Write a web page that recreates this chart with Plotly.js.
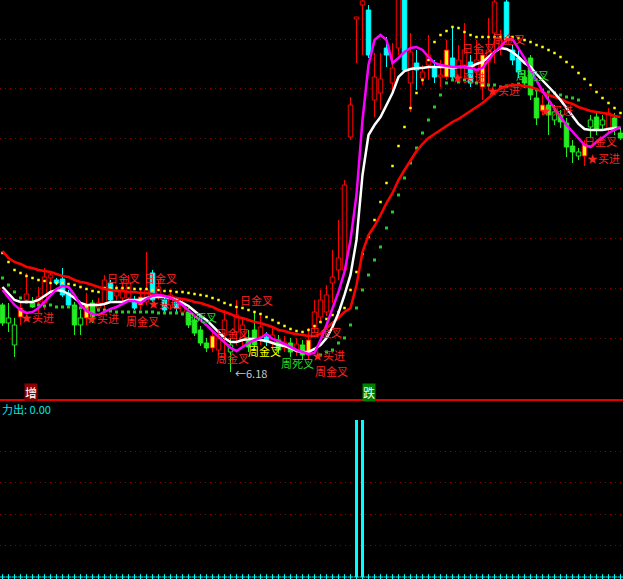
<!DOCTYPE html>
<html><head><meta charset="utf-8">
<script src="https://cdn.plot.ly/plotly-3.0.1.min.js"></script>
<style>html,body{margin:0;padding:0;background:#000;}#chart{width:623px;height:579px;}</style>
</head><body><div id="chart"></div>
<script>
// ---- candle data (price units) ----
const openP = [7.52,7.16,6.72,7.28,7.62,7.56,7.58,7.56,8.06,8.02,
 8.04,7.76,7.52,7.12,7.26,7.56,7.46,7.56,7.96,7.70,
 7.66,7.66,7.62,7.52,7.58,8.16,7.68,7.62,7.52,7.58,
 7.38,7.38,7.22,7.02,6.76,6.66,6.62,6.92,6.58,6.98,
 6.82,6.86,7.02,6.88,6.88,6.78,6.82,6.66,6.76,6.62,
 6.72,6.52,7.08,7.28,7.38,7.96,8.22,8.22,10.88,13.24,
 13.52,13.42,11.62,11.76,12.66,11.96,12.66,13.72,11.96,12.36,
 12.06,12.32,12.26,12.08,12.08,12.46,12.08,12.32,12.38,12.18,
 11.88,12.38,12.96,12.66,13.58,12.62,12.46,12.08,12.46,11.66,
 11.40,11.52,11.22,11.32,11.16,10.70,10.50,10.50,11.08,11.28,
 11.12,11.06,11.26,10.96];
const closeP = [7.16,7.26,7.12,7.46,7.74,7.48,7.68,8.08,8.12,7.96,
 7.72,7.52,7.12,7.26,7.52,7.28,7.56,8.02,7.62,7.82,
 7.82,7.96,7.46,7.68,7.82,7.62,7.88,7.42,7.72,7.46,
 7.56,7.12,6.96,6.76,6.66,6.90,6.86,7.22,6.72,7.32,
 7.12,6.68,6.72,7.08,6.78,6.92,6.62,6.78,6.58,6.74,
 6.52,6.82,7.38,7.62,7.72,8.08,8.46,9.92,11.52,13.28,
 13.60,12.52,12.08,12.04,12.52,12.26,13.72,12.22,12.58,12.22,
 12.18,12.52,12.08,12.12,12.62,12.08,12.42,12.62,11.96,12.42,
 12.52,12.62,13.58,12.82,12.82,12.42,12.18,11.96,11.72,11.26,
 11.52,11.32,11.38,11.18,10.68,10.58,10.58,10.74,11.22,11.02,
 11.22,11.36,11.02,10.86];
const highP = [7.56,7.56,7.26,7.56,8.16,7.68,7.88,8.26,8.18,8.06,
 8.26,7.82,7.58,7.42,7.76,7.62,7.66,8.12,8.02,7.92,
 7.98,8.12,7.70,7.82,8.58,8.22,8.02,7.68,7.82,7.66,
 7.66,7.46,7.32,7.10,6.86,7.02,7.02,7.42,6.86,7.62,
 7.26,7.02,7.38,7.32,6.98,7.06,6.92,6.90,6.86,6.86,
 6.82,7.06,7.62,7.82,7.92,8.62,9.22,10.02,11.68,13.28,
 14.02,13.52,12.56,12.56,12.88,12.76,13.82,13.82,12.96,12.62,
 12.32,12.92,12.42,12.42,12.82,13.08,12.72,13.16,12.52,12.82,
 12.62,13.26,13.72,13.02,13.72,12.72,12.62,12.22,12.52,11.82,
 11.72,11.76,11.52,11.42,11.26,10.82,10.66,10.82,11.32,11.38,
 11.32,11.46,11.36,11.06];
const lowP = [7.10,6.98,6.48,7.12,7.56,7.46,7.36,7.42,7.78,7.92,
 7.68,7.48,6.92,6.92,7.12,7.16,7.38,7.42,7.58,7.62,
 7.52,7.58,7.42,7.42,7.52,7.58,7.62,7.36,7.42,7.38,
 7.30,7.06,6.90,6.70,6.58,6.58,6.50,6.42,6.18,6.72,
 6.66,6.58,6.62,6.72,6.70,6.66,6.54,6.58,6.48,6.50,
 6.42,6.42,6.98,7.18,7.30,7.56,8.02,8.12,10.82,12.36,
 12.52,12.46,11.28,11.42,12.28,11.76,12.52,12.18,11.38,11.82,
 11.92,12.02,11.96,11.88,12.02,12.02,11.98,12.02,11.88,12.06,
 11.62,11.82,12.36,12.52,12.78,12.32,12.06,11.86,11.62,11.12,
 11.32,10.92,11.12,11.06,10.48,10.36,10.42,10.30,10.86,10.92,
 11.02,10.98,10.92,10.82];
// r = red hollow, g = green filled, gh = green hollow, c = cyan filled, y = yellow signal
const candleKind = ['g','gh','gh','y','r','g','r','r','r','c',
 'c','c','g','gh','y','g','r','r','c','r',
 'r','r','c','y','r','c','r','c','r','c',
 'r','g','g','g','g','y','r','r','gh','r',
 'r','g','g','r','c','r','g','r','g','r',
 'g','y','r','r','r','r','r','r','r','r',
 'r','c','r','r','c','r','r','c','r','c',
 'r','r','c','r','y','c','r','r','c','r',
 'y','r','r','r','c','c','c','g','g','g',
 'y','g','gh','g','g','g','gh','y','gh','g',
 'gh','r','g','g'];
// ---- indicator lines ----
const maLong = [8.60,8.46,8.38,8.34,8.28,8.26,8.22,8.20,8.18,8.14,
 8.10,8.08,8.02,7.98,7.96,7.92,7.88,7.84,7.82,7.80,
 7.80,7.78,7.78,7.76,7.76,7.74,7.72,7.70,7.68,7.66,
 7.64,7.62,7.58,7.56,7.52,7.48,7.42,7.38,7.34,7.28,
 7.26,7.22,7.18,7.16,7.12,7.08,7.02,7.00,6.96,6.94,
 6.92,6.90,6.90,6.94,7.06,7.16,7.26,7.38,7.46,7.92,
 8.58,8.92,9.10,9.32,9.56,9.76,10.02,10.22,10.42,10.60,
 10.74,10.86,10.94,11.02,11.10,11.18,11.24,11.32,11.40,11.48,
 11.56,11.66,11.76,11.86,11.90,11.92,11.92,11.90,11.88,11.84,
 11.78,11.72,11.68,11.64,11.58,11.54,11.48,11.44,11.40,11.38,
 11.36,11.34,11.30,11.28];
const maShort = [7.88,7.74,7.62,7.58,7.58,7.58,7.62,7.70,7.78,7.82,
 7.80,7.74,7.66,7.56,7.52,7.52,7.52,7.54,7.58,7.58,
 7.58,7.62,7.62,7.62,7.66,7.68,7.68,7.68,7.66,7.62,
 7.56,7.50,7.40,7.30,7.22,7.10,6.98,6.86,6.78,6.78,
 6.82,6.84,6.84,6.82,6.80,6.76,6.72,6.70,6.66,6.60,
 6.58,6.58,6.64,6.72,6.86,7.08,7.36,7.72,8.12,8.82,
 10.12,10.92,11.12,11.28,11.52,11.76,12.08,12.20,12.24,12.26,
 12.26,12.28,12.28,12.28,12.28,12.26,12.28,12.28,12.28,12.34,
 12.38,12.48,12.58,12.66,12.64,12.58,12.48,12.36,12.28,12.14,
 12.02,11.90,11.76,11.62,11.46,11.30,11.14,11.04,11.02,11.02,
 11.02,11.04,11.06,11.06];
const maMid = [7.82,7.68,7.52,7.42,7.36,7.38,7.46,7.58,7.72,7.84,
 7.90,7.88,7.72,7.52,7.40,7.34,7.32,7.38,7.44,7.48,
 7.54,7.60,7.60,7.56,7.64,7.70,7.72,7.70,7.66,7.60,
 7.52,7.40,7.30,7.22,7.12,7.00,6.88,6.76,6.66,6.60,
 6.68,6.76,6.82,6.86,6.94,6.84,6.80,6.74,6.68,6.62,
 6.58,6.54,6.56,6.82,7.12,7.46,7.78,8.18,8.82,9.72,
 11.22,12.32,12.82,12.92,12.82,12.36,12.46,12.58,12.66,12.68,
 12.62,12.48,12.36,12.32,12.30,12.28,12.28,12.28,12.26,12.22,
 12.26,12.42,12.58,12.68,12.82,12.84,12.66,12.46,12.22,12.00,
 11.80,11.62,11.44,11.28,11.12,10.98,10.86,10.72,10.68,10.78,
 10.86,10.96,11.02,11.08];
const dotsYellow = [8.56,8.38,8.22,8.16,8.10,8.06,8.02,8.00,7.96,7.96,
 7.96,7.94,7.92,7.88,7.84,7.80,7.78,7.86,7.86,7.86,
 7.86,7.86,7.84,7.84,7.84,7.82,7.82,7.80,7.80,7.78,
 7.78,7.76,7.74,7.72,7.70,7.66,7.62,7.56,7.52,7.48,
 7.46,7.42,7.38,7.34,7.28,7.22,7.16,7.10,7.04,7.00,
 6.98,7.02,7.10,7.18,7.24,7.32,7.38,7.46,7.82,8.18,
 8.54,8.88,9.22,9.58,9.96,10.30,10.70,11.08,11.46,11.76,
 12.02,12.42,12.78,12.92,13.00,13.08,13.06,12.98,12.92,12.88,
 12.88,12.88,12.88,12.88,12.88,12.88,12.86,12.82,12.78,12.72,
 12.68,12.62,12.56,12.48,12.38,12.28,12.16,12.04,11.92,11.78,
 11.66,11.56,11.46,11.36];
const dotsGreen = [8.06,7.92,7.78,7.66,7.58,7.54,7.52,7.50,7.52,7.48,
 7.48,7.48,7.46,7.46,7.44,7.44,7.42,7.42,7.40,7.38,
 7.38,7.38,7.38,7.38,7.38,7.38,7.36,7.36,7.36,7.36,
 7.34,null,null,null,null,null,null,null,null,null,
 null,null,null,null,null,null,null,null,null,null,
 null,null,null,6.52,6.58,6.62,6.76,6.86,7.12,7.46,
 7.82,8.12,8.42,8.68,9.06,9.38,9.72,10.06,10.36,10.66,
 10.96,11.22,11.48,11.72,11.96,12.02,11.98,12.02,11.98,11.96,
 11.96,11.92,11.92,11.88,11.90,11.92,11.94,11.90,11.86,11.82,
 11.82,11.78,11.76,11.72,11.68,11.66,11.62,null,null,null,
 null,null,null,null];
// ---- lower panel (力出) ----
const powerIdx = [59, 60];
const powerVal = [5.0, 5.0];
// ---- signal labels ----
const labelText  = ['日金叉','日金叉','★买进','★买进','周金叉','★买进','日金叉','日死叉','日金叉','周金叉','周金叉','周死叉','←6.18','日金叉','★买进','周金叉','日金叉','周金叉','★买进','★买进','周死叉','★买进','日金叉','★买进'];
const labelIdx   = [20.1,26.25,5.75,16.6,23.25,27.0,42.4,33.0,38.3,38.3,43.67,49.17,41.4,53.9,54.25,54.75,79.25,84.3,77.6,83.5,88.4,92.4,99.6,100.1];
const labelPrice = [8.06,8.06,7.28,7.26,7.20,7.56,7.62,7.28,6.96,6.46,6.60,6.36,6.16,6.98,6.52,6.20,12.66,12.84,12.08,11.82,12.12,11.42,10.80,10.46];
const labelKind  = ['r','r','r','r','r','r','r','g','r','r','y','g','w','r','r','r','r','r','r','r','g','r','r','r'];

// ---- build ----
const idx = openP.map((_, i) => i);
const kindStyle = {
  r:  {line:'#ff0000', fill:'#000000', wick:'#ff0000'},
  g:  {line:'#22ee22', fill:'#22ee22', wick:'#22ee22'},
  gh: {line:'#22ee22', fill:'#000000', wick:'#22ee22'},
  c:  {line:'#00ffff', fill:'#00ffff', wick:'#00ffff'},
  y:  {line:'#ff0000', fill:'#ffff00', wick:'#ff0000'}
};
const traces = [];
Object.keys(kindStyle).forEach(k => {
  const st = kindStyle[k];
  const xs = [], bases = [], hs = [], wx = [], wy = [];
  idx.forEach(i => {
    if (candleKind[i] !== k) return;
    const lo = Math.min(openP[i], closeP[i]), hi = Math.max(openP[i], closeP[i]);
    xs.push(i); bases.push(lo); hs.push(Math.max(hi - lo, 0.02));
    wx.push(i, i, null, i, i, null);
    wy.push(lowP[i], lo, null, hi, highP[i], null);
  });
  traces.push({type:'scatter', mode:'lines', x:wx, y:wy, line:{color:st.wick, width:1}, hoverinfo:'skip', xaxis:'x', yaxis:'y'});
  traces.push({type:'bar', x:xs, y:hs, base:bases, width:0.75,
    marker:{color:st.fill, line:{color:st.line, width:1}}, hoverinfo:'skip', xaxis:'x', yaxis:'y'});
});
traces.push({type:'scatter', mode:'markers', x:idx, y:dotsYellow, marker:{symbol:'square', size:2.5, color:'#ffff00'}, xaxis:'x', yaxis:'y'});
traces.push({type:'scatter', mode:'markers', x:idx, y:dotsGreen, marker:{symbol:'square', size:3, color:'#22cc22'}, xaxis:'x', yaxis:'y'});
traces.push({type:'scatter', mode:'lines', x:idx, y:maLong, line:{color:'#ff0000', width:2.5}, xaxis:'x', yaxis:'y'});
traces.push({type:'scatter', mode:'lines', x:idx, y:maShort, line:{color:'#ffffff', width:2.5}, xaxis:'x', yaxis:'y'});
traces.push({type:'scatter', mode:'lines', x:idx, y:maMid, line:{color:'#ff00ff', width:2.5}, xaxis:'x', yaxis:'y'});
// lower panel
traces.push({type:'bar', x:powerIdx, y:powerVal, width:0.5, marker:{color:'#00ffff', line:{width:0}}, xaxis:'x2', yaxis:'y2'});
traces.push({type:'scatter', mode:'markers', x:idx, y:idx.map(() => 0), marker:{symbol:'cross-thin', size:4, color:'#00ffff', line:{color:'#00ffff', width:1}}, xaxis:'x2', yaxis:'y2'});

const labelColor = {r:'#ff2020', g:'#22dd22', y:'#ffff00', w:'#c8c8c8'};
const annotations = labelText.map((t, j) => ({
  x: labelIdx[j], y: labelPrice[j], xref:'x', yref:'y', text:t, showarrow:false,
  xanchor:'center', yanchor:'middle', borderpad:0,
  font:{family:'Noto Sans CJK SC, sans-serif', size:11, color:labelColor[labelKind[j]]}
}));
annotations.push({x:4.8, y:5.77, xref:'x', yref:'y', text:'增', showarrow:false, bgcolor:'#8b0000', borderpad:0,
  font:{family:'Noto Sans CJK SC', size:12, color:'#ffffff'}});
annotations.push({x:61, y:5.77, xref:'x', yref:'y', text:'跌', showarrow:false, bgcolor:'#008000', borderpad:0,
  font:{family:'Noto Sans CJK SC', size:12, color:'#ffffff'}});
annotations.push({x:0, y:0.2936, xref:'paper', yref:'paper', xanchor:'left', yanchor:'middle', text:'力出: 0.00', showarrow:false,
  font:{family:'Noto Sans CJK SC', size:11, color:'#00e8e8'}});

const xr = [-0.417, 103.417];
const layout = {
  width:623, height:579, margin:{l:0, r:0, t:0, b:0},
  paper_bgcolor:'#000000', plot_bgcolor:'#000000',
  showlegend:false, barmode:'overlay', hovermode:false,
  xaxis:{domain:[0,1], range:xr, visible:false, anchor:'y'},
  yaxis:{domain:[0.3092,1], range:[5.62,13.62], tickvals:[6.84,7.84,8.84,9.84,10.84,11.84,12.84],
    showticklabels:false, ticks:'', showgrid:true, gridcolor:'#8a0000', griddash:'1px,4px', gridwidth:1,
    zeroline:false, showline:false, anchor:'x'},
  xaxis2:{domain:[0,1], range:xr, visible:false, anchor:'y2'},
  yaxis2:{domain:[0,0.3092], range:[-0.0637,5.637], tickvals:[1,2,3,4],
    showticklabels:false, ticks:'', showgrid:true, gridcolor:'#8a0000', griddash:'1px,4px', gridwidth:1,
    zeroline:false, showline:false, anchor:'x2'},
  shapes:[{type:'line', xref:'paper', yref:'paper', x0:0, x1:1, y0:0.3092, y1:0.3092, line:{color:'#e00000', width:2}}],
  annotations: annotations
};
Plotly.newPlot('chart', traces, layout, {displayModeBar:false, staticPlot:true});
</script>
</body></html>
